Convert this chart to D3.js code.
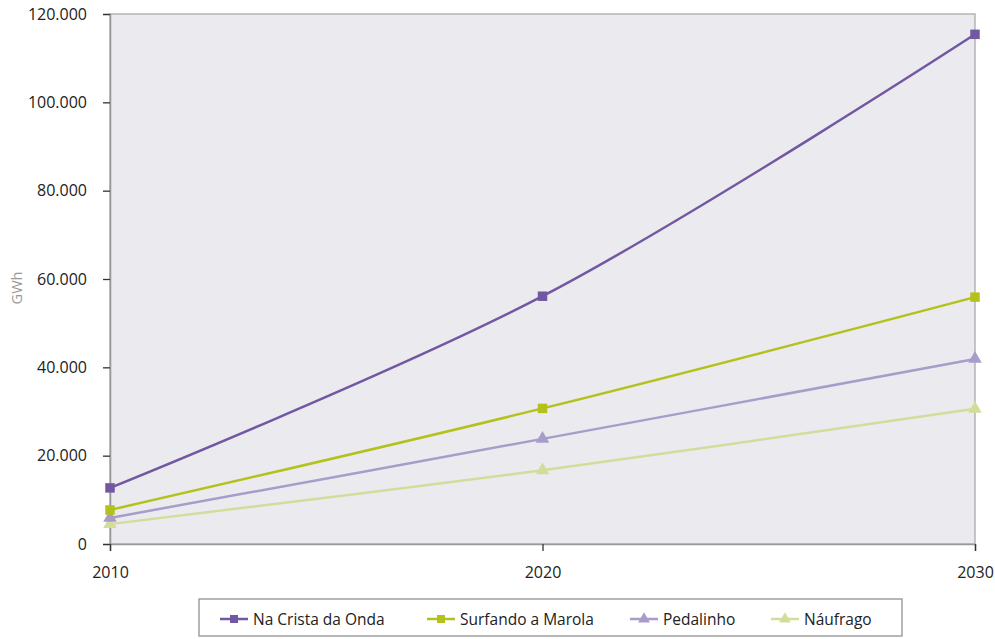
<!DOCTYPE html>
<html><head><meta charset="utf-8">
<script src="https://cdnjs.cloudflare.com/ajax/libs/d3/7.8.5/d3.min.js"></script>
<style>body{margin:0;background:#fff}svg{display:block}</style>
</head><body><svg id="c" width="995" height="639"></svg>
<script>
const years = [2010, 2020, 2030];
const seriesNames = ["Na Crista da Onda", "Surfando a Marola", "Pedalinho", "Náufrago"];
const naCrista = [12700, 56100, 115400];
const surfando = [7700, 30700, 55900];
const pedalinho = [5900, 23800, 41900];
const naufrago = [4500, 16700, 30600];
const yTicks = [0, 20000, 40000, 60000, 80000, 100000, 120000];
const colors = ["#7257a2", "#b4c11c", "#a89ccb", "#d4dc9c"];
const markers = ["square", "square", "triangle", "triangle"];
const allSeries = [naCrista, surfando, pedalinho, naufrago];

const svg = d3.select("#c");
const L = 110, R = 975, T = 14, B = 544;
const x = d3.scaleLinear().domain([2010, 2030]).range([L, R]);
const y = d3.scaleLinear().domain([0, 120000]).range([B, T]);
const font = "'Open Sans', sans-serif";

svg.append("rect").attr("x", L).attr("y", T).attr("width", R - L).attr("height", B - T)
  .attr("fill", "#ebebef").attr("stroke", "#b0b0b0").attr("stroke-width", 1.4);

const fmt = v => v === 0 ? "0" : d3.format(",")(v).replace(/,/g, ".");
const yAxis = svg.append("g").attr("transform", `translate(${L},0)`)
  .call(d3.axisLeft(y).tickValues(yTicks).tickSize(7).tickPadding(16).tickFormat(fmt));
yAxis.select(".domain").attr("stroke", "#999").attr("stroke-width", 1.6);
yAxis.selectAll(".tick line").attr("stroke", "#333").attr("stroke-width", 1.3);
yAxis.selectAll("text").attr("font-family", font).attr("font-size", 16).attr("fill", "#222");

const xAxis = svg.append("g").attr("transform", `translate(0,${B})`)
  .call(d3.axisBottom(x).tickValues(years).tickSize(7).tickPadding(16).tickFormat(d3.format("d")));
xAxis.select(".domain").attr("stroke", "#999").attr("stroke-width", 1.6);
xAxis.selectAll(".tick line").attr("stroke", "#333").attr("stroke-width", 1.3);
xAxis.selectAll("text").attr("font-family", font).attr("font-size", 16).attr("fill", "#222");

svg.append("text").attr("transform", "translate(22,288) rotate(-90)").attr("text-anchor", "middle")
  .attr("font-family", font).attr("font-size", 14.5).attr("fill", "#999").text("GWh");

const line = d3.line().x((d, i) => x(years[i])).y(d => y(d)).curve(d3.curveCatmullRom.alpha(0.5));
const sq = d3.symbol().type(d3.symbolSquare).size(90);
const tri = d3.symbol().type(d3.symbolTriangle).size(80);

[3, 2, 1, 0].forEach(k => {
  const vals = allSeries[k];
  svg.append("path").attr("d", line(vals)).attr("fill", "none")
    .attr("stroke", colors[k]).attr("stroke-width", 2.5);
  svg.selectAll(null).data(vals).enter().append("path")
    .attr("d", markers[k] === "square" ? sq : tri)
    .attr("transform", (d, i) => `translate(${x(years[i])},${y(d)})`)
    .attr("fill", colors[k]);
});

// legend
const lg = svg.append("g");
lg.append("rect").attr("x", 199).attr("y", 599).attr("width", 703).attr("height", 37)
  .attr("fill", "#fff").attr("stroke", "#999").attr("stroke-width", 1.4);
const lx = [220, 427, 630, 771];
seriesNames.forEach((n, k) => {
  const g = lg.append("g").attr("transform", `translate(${lx[k]},619)`);
  g.append("line").attr("x1", 0).attr("x2", 28).attr("stroke", colors[k]).attr("stroke-width", 2.5);
  g.append("path").attr("d", markers[k] === "square" ? d3.symbol().type(d3.symbolSquare).size(64)() : d3.symbol().type(d3.symbolTriangle).size(60)())
    .attr("transform", "translate(14,0)").attr("fill", colors[k]);
  g.append("text").attr("x", 33).attr("y", 5.5).attr("font-family", font).attr("font-size", 15.5)
    .attr("fill", "#222").text(n);
});
</script></body></html>
